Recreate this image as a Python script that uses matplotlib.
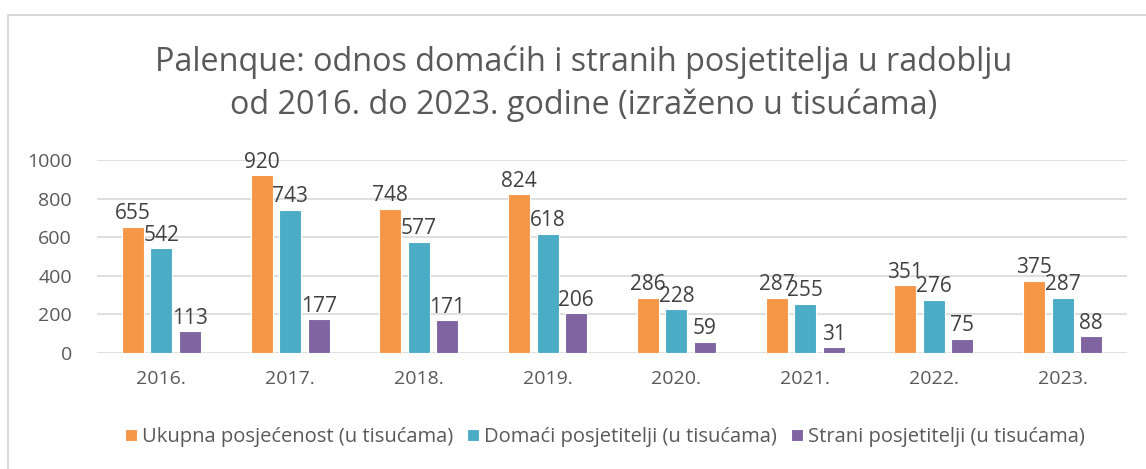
import matplotlib
matplotlib.use("Agg")
import matplotlib.pyplot as plt
import numpy as np
from matplotlib.patches import Rectangle

plt.rcParams['font.family'] = ['Open Sans', 'DejaVu Sans']

# data
years = ['2016.', '2017.', '2018.', '2019.', '2020.', '2021.', '2022.', '2023.']
ukupno = [655, 920, 748, 824, 286, 287, 351, 375]
domaci = [542, 743, 577, 618, 228, 255, 276, 287]
strani = [113, 177, 171, 206, 59, 31, 75, 88]
series_names = ['Ukupna posjećenost (u tisućama)',
                'Domaći posjetitelji (u tisućama)',
                'Strani posjetitelji (u tisućama)']
colors = ['#F79646', '#4BACC6', '#8064A2']
grey = '#595959'

fig = plt.figure(figsize=(11.46, 4.69), dpi=100)
ax = fig.add_axes([97/1146, 1 - 353/469, 1030/1146, 193/469])

x = np.arange(len(years))
w = 0.171
step = 0.221
for i, (vals, name, c) in enumerate(zip([ukupno, domaci, strani], series_names, colors)):
    bars = ax.bar(x + (i - 1) * step, vals, w, color=c, label=name,
                  edgecolor='white', linewidth=0.8, zorder=3)
    for b, v in zip(bars, vals):
        ax.text(b.get_x() + b.get_width() / 2, v + 12, str(v),
                ha='center', va='bottom', fontsize=15, color='#404040', zorder=4)

ax.set_xlim(-0.5, len(years) - 0.5)
ax.set_ylim(0, 1000)
ax.set_yticks(range(0, 1001, 200))
ax.set_xticks(x)
ax.set_xticklabels(years)
ax.tick_params(axis='both', length=0, labelsize=14, colors=grey)
ax.tick_params(axis='y', pad=18)
ax.tick_params(axis='x', pad=12)
ax.grid(axis='y', color='#D9D9D9', linewidth=1.2, zorder=0)
for s in ax.spines.values():
    s.set_visible(False)

fig.text(0.509, 1 - 62/469, 'Palenque: odnos domaćih i stranih posjetitelja u radoblju',
         ha='center', va='center', fontsize=23.3, color=grey)
fig.text(0.509, 1 - 105/469, 'od 2016. do 2023. godine (izraženo u tisućama)',
         ha='center', va='center', fontsize=23.3, color=grey)

fig.legend(loc='center', bbox_to_anchor=(605/1146, 1 - 437/469), ncol=3, frameon=False,
           fontsize=14.5, labelcolor=grey, handlelength=0.6, handleheight=0.6,
           handletextpad=0.25, columnspacing=0.7)

fig.patches.append(Rectangle((8/1146, -0.1), 1.2, 1 - 15/469 + 0.1, transform=fig.transFigure,
                             fill=False, edgecolor='#D9D9D9', linewidth=1.5))

fig.savefig('out.png', dpi=100, facecolor='white')
